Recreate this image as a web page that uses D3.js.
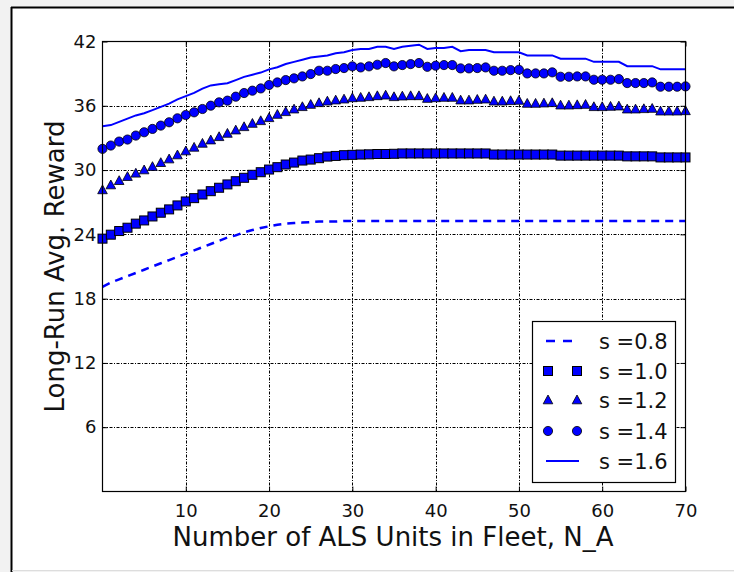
<!DOCTYPE html>
<html>
<head>
<meta charset="utf-8">
<script src="https://cdn.jsdelivr.net/npm/d3@7"></script>
<style>
  body { margin: 0; background: #fff; }
  text { font-family: "DejaVu Sans", sans-serif; fill: #111; }
</style>
</head>
<body>
<div id="chart"></div>
<script>
// x values: number of ALS units 0..70
var nA = d3.range(0, 71);

// series values
var s08 = [19.1, 19.5, 19.8, 20.1, 20.4, 20.7, 21.0, 21.3, 21.6, 21.9,
  22.2, 22.5, 22.8, 23.1, 23.4, 23.7, 23.9, 24.2, 24.4, 24.6,
  24.75, 24.9, 25.0, 25.05, 25.1, 25.15, 25.2, 25.2, 25.2, 25.25,
  25.25, 25.25, 25.25, 25.25, 25.25, 25.25, 25.25, 25.25, 25.25, 25.25,
  25.25, 25.25, 25.25, 25.25, 25.25, 25.25, 25.25, 25.25, 25.25, 25.25,
  25.25, 25.25, 25.25, 25.25, 25.25, 25.25, 25.25, 25.25, 25.25, 25.25,
  25.25, 25.25, 25.25, 25.25, 25.25, 25.25, 25.25, 25.25, 25.25, 25.25, 25.25];

var s10 = [23.6, 23.97, 24.31, 24.62, 25.0, 25.3, 25.67, 26.02, 26.33, 26.7,
  27.07, 27.38, 27.72, 28.03, 28.35, 28.66, 28.96, 29.28, 29.56, 29.8,
  30.05, 30.27, 30.52, 30.7, 30.89, 30.98, 31.11, 31.26, 31.32, 31.39,
  31.42, 31.45, 31.47, 31.5, 31.5, 31.52, 31.55, 31.55, 31.55, 31.55,
  31.55, 31.55, 31.55, 31.55, 31.55, 31.55, 31.55, 31.45, 31.45, 31.45,
  31.45, 31.45, 31.45, 31.45, 31.45, 31.35, 31.35, 31.35, 31.35, 31.35,
  31.35, 31.35, 31.35, 31.28, 31.28, 31.28, 31.28, 31.18, 31.18, 31.18, 31.18];

var s12 = [28.1, 28.56, 28.96, 29.34, 29.65, 29.96, 30.27, 30.64, 30.98, 31.36,
  31.73, 32.07, 32.44, 32.75, 33.06, 33.37, 33.68, 33.99, 34.3, 34.55,
  34.83, 35.14, 35.39, 35.64, 35.86, 36.07, 36.23, 36.38, 36.48, 36.57,
  36.69, 36.73, 36.79, 36.88, 36.94, 36.79, 36.85, 36.88, 36.88, 36.63,
  36.69, 36.73, 36.73, 36.48, 36.48, 36.54, 36.57, 36.38, 36.38, 36.42,
  36.45, 36.17, 36.17, 36.2, 36.23, 36.01, 36.01, 36.04, 36.07, 35.86,
  35.86, 35.89, 35.92, 35.64, 35.64, 35.67, 35.7, 35.45, 35.45, 35.45, 35.48];

var s14 = [31.98, 32.29, 32.66, 32.85, 33.22, 33.53, 33.84, 34.15, 34.46, 34.83,
  35.14, 35.39, 35.7, 36.01, 36.32, 36.48, 36.85, 37.19, 37.41, 37.62,
  37.94, 38.18, 38.4, 38.56, 38.74, 38.96, 39.27, 39.27, 39.43, 39.52,
  39.68, 39.58, 39.68, 39.83, 39.99, 39.68, 39.8, 39.89, 39.99, 39.64,
  39.74, 39.8, 39.8, 39.49, 39.49, 39.52, 39.58, 39.27, 39.27, 39.33,
  39.36, 39.02, 39.02, 39.02, 39.12, 38.71, 38.71, 38.74, 38.74, 38.43,
  38.43, 38.43, 38.49, 38.12, 38.12, 38.12, 38.18, 37.78, 37.78, 37.78, 37.81];

var s16 = [34.1, 34.2, 34.5, 34.8, 35.1, 35.3, 35.6, 35.9, 36.2, 36.6,
  36.9, 37.2, 37.6, 37.9, 38.0, 38.1, 38.4, 38.7, 38.9, 39.1,
  39.4, 39.6, 39.9, 40.1, 40.3, 40.5, 40.6, 40.7, 40.9, 41.0,
  41.2, 41.3, 41.3, 41.5, 41.5, 41.3, 41.5, 41.6, 41.7, 41.3,
  41.4, 41.4, 41.5, 41.1, 41.2, 41.2, 41.2, 41.0, 41.0, 41.0,
  41.0, 40.7, 40.7, 40.7, 40.7, 40.4, 40.4, 40.4, 40.4, 40.1,
  40.1, 40.1, 40.1, 39.7, 39.7, 39.7, 39.7, 39.4, 39.4, 39.4, 39.4];

var xTicks = [10, 20, 30, 40, 50, 60, 70];
var yTicks = [6, 12, 18, 24, 30, 36, 42];
var legendLabels = ["s =0.8", "s =1.0", "s =1.2", "s =1.4", "s =1.6"];

var svgWidth = 734;
var svgHeight = 572;
var blue = "#0000ff";

var svg = d3.select("#chart")
    .append("svg")
    .attr("width", svgWidth)
    .attr("height", svgHeight);

// figure window frame
svg.append("rect").attr("width", svgWidth).attr("height", svgHeight).attr("fill", "#f2f2f2");
svg.append("rect").attr("x", 11).attr("y", 7).attr("width", svgWidth - 11).attr("height", 563)
    .attr("fill", "#fff");
svg.append("line").attr("x1", 11.5).attr("x2", 11.5).attr("y1", 7).attr("y2", 572)
    .attr("stroke", "#000").attr("stroke-width", 2);
svg.append("line").attr("x1", 11).attr("x2", svgWidth).attr("y1", 7.5).attr("y2", 7.5)
    .attr("stroke", "#000").attr("stroke-width", 2);
svg.append("line").attr("x1", 12).attr("x2", svgWidth).attr("y1", 570.5).attr("y2", 570.5)
    .attr("stroke", "#ddd").attr("stroke-width", 1);

var xScale = d3.scaleLinear().domain([0, 70]).range([102.5, 685.5]);
var yScale = d3.scaleLinear().domain([0, 42]).range([491.5, 41.5]);

var plot = svg.append("g");

// grid
plot.selectAll(".vgrid").data(xTicks.filter(d => d < 70)).enter().append("line")
    .attr("x1", d => Math.round(xScale(d)) + 0.5).attr("x2", d => Math.round(xScale(d)) + 0.5)
    .attr("y1", yScale(42)).attr("y2", yScale(0))
    .attr("stroke", "#000").attr("stroke-width", 1).attr("stroke-dasharray", "3,1.5,1,1.5");
plot.selectAll(".hgrid").data(yTicks.filter(d => d < 42)).enter().append("line")
    .attr("y1", d => Math.round(yScale(d)) + 0.5).attr("y2", d => Math.round(yScale(d)) + 0.5)
    .attr("x1", xScale(0)).attr("x2", xScale(70))
    .attr("stroke", "#000").attr("stroke-width", 1).attr("stroke-dasharray", "3,1.5,1,1.5");

// axes with inward ticks
var xAxisB = d3.axisBottom(xScale).tickValues(xTicks).tickSizeInner(-5).tickSizeOuter(0).tickPadding(13);
var xAxisT = d3.axisTop(xScale).tickValues(xTicks).tickSizeInner(-5).tickSizeOuter(0).tickFormat("");
var yAxisL = d3.axisLeft(yScale).tickValues(yTicks).tickSizeInner(-5).tickSizeOuter(0).tickPadding(6);
var yAxisR = d3.axisRight(yScale).tickValues(yTicks).tickSizeInner(-5).tickSizeOuter(0).tickFormat("");

function styleAxis(g) {
    g.select(".domain").remove();
    g.selectAll("line").attr("stroke", "#000").attr("stroke-width", 1);
    g.selectAll("text").attr("font-size", 18).attr("fill", "#111")
        .attr("font-family", "DejaVu Sans, sans-serif");
}

plot.append("g").attr("transform", `translate(0,${yScale(0)})`).call(xAxisB).call(styleAxis);
plot.append("g").attr("transform", `translate(0,${yScale(42)})`).call(xAxisT).call(styleAxis);
plot.append("g").attr("transform", `translate(${xScale(0)},0)`).call(yAxisL).call(styleAxis);
plot.append("g").attr("transform", `translate(${xScale(70)},0)`).call(yAxisR).call(styleAxis);

// series
var line = d3.line().x((d, i) => xScale(nA[i])).y(d => yScale(d));

plot.append("path").datum(s08).attr("d", line)
    .attr("fill", "none").attr("stroke", blue).attr("stroke-width", 2.5)
    .attr("stroke-dasharray", "8,6");

function squareAt(g, cx, cy) {
    g.append("rect").attr("x", cx - 4.5).attr("y", cy - 4.5).attr("width", 9).attr("height", 9)
        .attr("fill", blue).attr("stroke", "#000").attr("stroke-width", 1);
}
function triAt(g, cx, cy) {
    var p = [[cx, cy - 5.5], [cx + 4.8, cy + 3.3], [cx - 4.8, cy + 3.3]];
    g.append("path").attr("d", "M" + p.join("L") + "Z")
        .attr("fill", blue).attr("stroke", "#000").attr("stroke-width", 0.8);
}
function dotAt(g, cx, cy) {
    g.append("circle").attr("cx", cx).attr("cy", cy).attr("r", 4.6)
        .attr("fill", blue).attr("stroke", "#000").attr("stroke-width", 0.8);
}

var gSq = plot.append("g");
s10.forEach((v, i) => squareAt(gSq, xScale(nA[i]), yScale(v)));
var gTri = plot.append("g");
s12.forEach((v, i) => triAt(gTri, xScale(nA[i]), yScale(v)));
var gDot = plot.append("g");
s14.forEach((v, i) => dotAt(gDot, xScale(nA[i]), yScale(v)));

plot.append("path").datum(s16).attr("d", line)
    .attr("fill", "none").attr("stroke", blue).attr("stroke-width", 2);

// frame
plot.append("rect")
    .attr("x", xScale(0)).attr("y", yScale(42))
    .attr("width", xScale(70) - xScale(0)).attr("height", yScale(0) - yScale(42))
    .attr("fill", "none").attr("stroke", "#000").attr("stroke-width", 1.2);

// legend
var legend = svg.append("g");
legend.append("rect").attr("x", 532.5).attr("y", 321.5).attr("width", 143).attr("height", 161)
    .attr("fill", "#fff").attr("stroke", "#000").attr("stroke-width", 1.2);
var rowY = [341, 371, 400.5, 431, 461];
legend.append("line").attr("x1", 546).attr("x2", 574).attr("y1", rowY[0]).attr("y2", rowY[0])
    .attr("stroke", blue).attr("stroke-width", 2.5).attr("stroke-dasharray", "9,8");
squareAt(legend, 548, rowY[1]); squareAt(legend, 577, rowY[1]);
triAt(legend, 548, rowY[2]); triAt(legend, 577, rowY[2]);
dotAt(legend, 548, rowY[3]); dotAt(legend, 577, rowY[3]);
legend.append("line").attr("x1", 546).attr("x2", 579).attr("y1", rowY[4]).attr("y2", rowY[4])
    .attr("stroke", blue).attr("stroke-width", 2);
legend.selectAll(".lt").data(legendLabels).enter().append("text")
    .attr("x", 599).attr("y", (d, i) => rowY[i] + 7.5)
    .attr("font-size", 21).text(d => d);

// axis labels
svg.append("text")
    .attr("x", 393).attr("y", 546)
    .attr("text-anchor", "middle").attr("font-size", 26)
    .text("Number of ALS Units in Fleet, N_A");
svg.append("text")
    .attr("transform", `translate(64,${(yScale(0) + yScale(42)) / 2}) rotate(-90)`)
    .attr("text-anchor", "middle").attr("font-size", 26)
    .text("Long-Run Avg. Reward");
</script>
</body>
</html>
